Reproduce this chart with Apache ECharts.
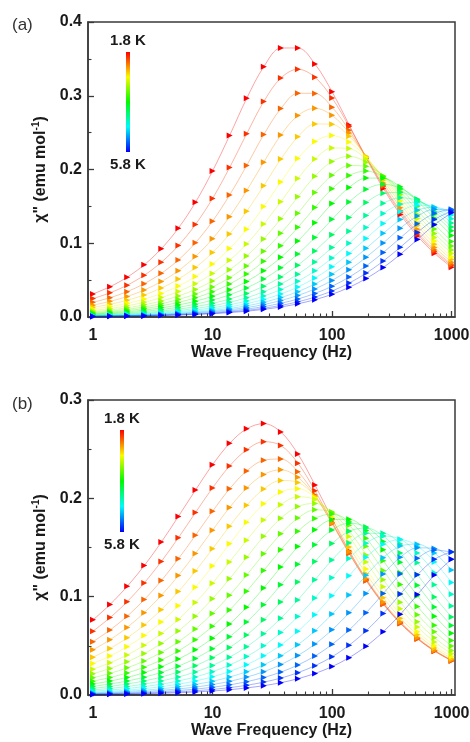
<!DOCTYPE html>
<html><head><meta charset="utf-8">
<script src="https://cdn.jsdelivr.net/npm/echarts@6/dist/echarts.min.js"></script>
<style>html,body{margin:0;padding:0;background:#fff}#c{width:470px;height:742px}</style>
</head><body><div id="c"></div>
<script>
// ---- data ----
const freqHz = [1, 1.389, 1.931, 2.683, 3.728, 5.179, 7.197, 10, 13.89, 19.31, 26.83, 37.28, 51.79, 71.97, 100, 138.9, 193.1, 268.3, 372.8, 517.9, 719.7, 1000];
const temperaturesK = [1.8, 2.0, 2.2, 2.4, 2.6, 2.8, 3.0, 3.2, 3.4, 3.6, 3.8, 4.0, 4.2, 4.4, 4.6, 4.8, 5.0, 5.2, 5.4, 5.6, 5.8];
const xTickValues = [1, 10, 100, 1000];
const xTickLabels = ['1', '10', '100', '1000'];
const colorbarLabels = ['1.8 K', '5.8 K'];

// panel (a): chi'' (emu/mol) per temperature
const chiA_1p8K = [0.0313,0.0411,0.0540,0.0708,0.0926,0.1205,0.1555,0.1980,0.2461,0.2965,0.3393,0.3647,0.3648,0.3429,0.3053,0.2605,0.2153,0.1742,0.1389,0.1098,0.0863,0.0675];
const chiA_2p0K = [0.0250,0.0328,0.0431,0.0566,0.0742,0.0968,0.1255,0.1607,0.2027,0.2485,0.2922,0.3240,0.3360,0.3250,0.2969,0.2583,0.2165,0.1768,0.1419,0.1126,0.0887,0.0696];
const chiA_2p2K = [0.0199,0.0262,0.0344,0.0452,0.0592,0.0774,0.1007,0.1300,0.1654,0.2055,0.2473,0.2826,0.3034,0.3031,0.2845,0.2532,0.2158,0.1783,0.1442,0.1150,0.0909,0.0714];
const chiA_2p4K = [0.0161,0.0212,0.0278,0.0366,0.0480,0.0628,0.0820,0.1062,0.1361,0.1715,0.2100,0.2467,0.2732,0.2830,0.2734,0.2494,0.2168,0.1817,0.1483,0.1190,0.0944,0.0744];
const chiA_2p6K = [0.0131,0.0173,0.0227,0.0299,0.0392,0.0514,0.0672,0.0874,0.1127,0.1434,0.1780,0.2141,0.2443,0.2618,0.2612,0.2450,0.2178,0.1855,0.1533,0.1239,0.0988,0.0780];
const chiA_2p8K = [0.0107,0.0141,0.0185,0.0243,0.0320,0.0419,0.0549,0.0717,0.0928,0.1189,0.1497,0.1832,0.2150,0.2378,0.2460,0.2373,0.2163,0.1879,0.1573,0.1284,0.1030,0.0817];
const chiA_3p0K = [0.0088,0.0115,0.0152,0.0200,0.0263,0.0345,0.0452,0.0591,0.0769,0.0991,0.1260,0.1564,0.1879,0.2141,0.2292,0.2284,0.2139,0.1900,0.1618,0.1335,0.1079,0.0860];
const chiA_3p2K = [0.0072,0.0095,0.0125,0.0165,0.0217,0.0285,0.0374,0.0489,0.0639,0.0827,0.1059,0.1333,0.1630,0.1910,0.2110,0.2179,0.2099,0.1912,0.1659,0.1389,0.1133,0.0909];
const chiA_3p4K = [0.0060,0.0079,0.0104,0.0137,0.0180,0.0237,0.0311,0.0408,0.0533,0.0693,0.0893,0.1135,0.1407,0.1689,0.1922,0.2054,0.2045,0.1913,0.1698,0.1445,0.1192,0.0963];
const chiA_3p6K = [0.0050,0.0066,0.0087,0.0114,0.0151,0.0198,0.0260,0.0341,0.0447,0.0583,0.0755,0.0966,0.1216,0.1486,0.1739,0.1918,0.1979,0.1904,0.1732,0.1502,0.1257,0.1025];
const chiA_3p8K = [0.0041,0.0054,0.0072,0.0094,0.0124,0.0163,0.0214,0.0281,0.0369,0.0482,0.0627,0.0809,0.1029,0.1279,0.1538,0.1757,0.1884,0.1881,0.1765,0.1570,0.1338,0.1105];
const chiA_4p0K = [0.0034,0.0044,0.0058,0.0077,0.0101,0.0133,0.0174,0.0229,0.0301,0.0394,0.0514,0.0667,0.0854,0.1078,0.1324,0.1560,0.1733,0.1800,0.1746,0.1598,0.1392,0.1169];
const chiA_4p2K = [0.0027,0.0036,0.0047,0.0062,0.0081,0.0107,0.0141,0.0185,0.0244,0.0320,0.0418,0.0544,0.0703,0.0896,0.1116,0.1349,0.1552,0.1677,0.1689,0.1596,0.1428,0.1222];
const chiA_4p4K = [0.0022,0.0029,0.0039,0.0051,0.0067,0.0088,0.0116,0.0152,0.0200,0.0262,0.0343,0.0448,0.0581,0.0746,0.0944,0.1162,0.1377,0.1542,0.1616,0.1580,0.1456,0.1276];
const chiA_4p6K = [0.0018,0.0024,0.0032,0.0042,0.0055,0.0072,0.0095,0.0126,0.0165,0.0217,0.0284,0.0372,0.0484,0.0626,0.0799,0.0999,0.1213,0.1404,0.1529,0.1553,0.1478,0.1331];
const chiA_4p8K = [0.0015,0.0020,0.0027,0.0035,0.0046,0.0061,0.0080,0.0105,0.0138,0.0181,0.0238,0.0312,0.0407,0.0529,0.0680,0.0862,0.1065,0.1269,0.1431,0.1516,0.1491,0.1384];
const chiA_5p0K = [0.0013,0.0017,0.0022,0.0029,0.0039,0.0051,0.0067,0.0088,0.0116,0.0152,0.0200,0.0263,0.0344,0.0448,0.0580,0.0742,0.0931,0.1134,0.1321,0.1450,0.1488,0.1424];
const chiA_5p2K = [0.0011,0.0014,0.0019,0.0025,0.0033,0.0043,0.0057,0.0075,0.0098,0.0129,0.0169,0.0223,0.0292,0.0381,0.0496,0.0639,0.0811,0.1005,0.1205,0.1369,0.1460,0.1450];
const chiA_5p4K = [0.0009,0.0012,0.0016,0.0021,0.0027,0.0036,0.0047,0.0062,0.0082,0.0108,0.0141,0.0186,0.0244,0.0320,0.0417,0.0541,0.0693,0.0875,0.1074,0.1265,0.1406,0.1460];
const chiA_5p6K = [0.0008,0.0010,0.0013,0.0017,0.0023,0.0030,0.0040,0.0052,0.0069,0.0091,0.0119,0.0157,0.0206,0.0270,0.0353,0.0460,0.0595,0.0759,0.0947,0.1147,0.1323,0.1436];
const chiA_5p8K = [0.0007,0.0009,0.0012,0.0015,0.0020,0.0026,0.0035,0.0045,0.0060,0.0079,0.0104,0.0136,0.0179,0.0235,0.0308,0.0402,0.0522,0.0671,0.0851,0.1051,0.1252,0.1412];

// panel (b)
const chiB_1p8K = [0.0764,0.0921,0.1105,0.1316,0.1555,0.1816,0.2084,0.2342,0.2559,0.2707,0.2760,0.2674,0.2450,0.2135,0.1792,0.1465,0.1176,0.0934,0.0736,0.0577,0.0451,0.0353];
const chiB_2p0K = [0.0649,0.0787,0.0949,0.1140,0.1358,0.1599,0.1855,0.2106,0.2329,0.2494,0.2576,0.2537,0.2357,0.2077,0.1757,0.1443,0.1162,0.0923,0.0727,0.0570,0.0446,0.0347];
const chiB_2p2K = [0.0542,0.0661,0.0802,0.0970,0.1164,0.1385,0.1624,0.1868,0.2097,0.2279,0.2387,0.2400,0.2271,0.2035,0.1742,0.1439,0.1164,0.0926,0.0730,0.0572,0.0447,0.0348];
const chiB_2p4K = [0.0459,0.0562,0.0687,0.0837,0.1013,0.1214,0.1440,0.1676,0.1907,0.2105,0.2243,0.2290,0.2214,0.2019,0.1749,0.1459,0.1185,0.0946,0.0746,0.0585,0.0456,0.0355];
const chiB_2p6K = [0.0384,0.0473,0.0581,0.0712,0.0868,0.1052,0.1260,0.1487,0.1717,0.1930,0.2095,0.2182,0.2162,0.2019,0.1781,0.1505,0.1232,0.0989,0.0781,0.0613,0.0478,0.0372];
const chiB_2p8K = [0.0321,0.0397,0.0491,0.0605,0.0743,0.0907,0.1097,0.1311,0.1537,0.1757,0.1944,0.2064,0.2098,0.2007,0.1808,0.1551,0.1282,0.1034,0.0820,0.0644,0.0502,0.0391];
const chiB_3p0K = [0.0263,0.0328,0.0407,0.0506,0.0625,0.0769,0.0940,0.1136,0.1353,0.1575,0.1779,0.1936,0.2015,0.1987,0.1840,0.1613,0.1353,0.1101,0.0878,0.0692,0.0540,0.0420];
const chiB_3p2K = [0.0216,0.0270,0.0338,0.0421,0.0525,0.0651,0.0802,0.0980,0.1182,0.1400,0.1614,0.1798,0.1917,0.1948,0.1859,0.1668,0.1425,0.1173,0.0942,0.0744,0.0582,0.0452];
const chiB_3p4K = [0.0175,0.0220,0.0276,0.0346,0.0433,0.0541,0.0672,0.0830,0.1014,0.1220,0.1436,0.1639,0.1799,0.1883,0.1862,0.1727,0.1513,0.1267,0.1028,0.0817,0.0642,0.0499];
const chiB_3p6K = [0.0141,0.0178,0.0224,0.0283,0.0356,0.0448,0.0562,0.0699,0.0864,0.1055,0.1266,0.1478,0.1665,0.1796,0.1840,0.1767,0.1593,0.1364,0.1123,0.0900,0.0709,0.0553];
const chiB_3p8K = [0.0112,0.0142,0.0179,0.0228,0.0288,0.0365,0.0460,0.0578,0.0722,0.0893,0.1089,0.1302,0.1509,0.1681,0.1782,0.1787,0.1674,0.1476,0.1241,0.1009,0.0802,0.0628];
const chiB_4p0K = [0.0088,0.0112,0.0142,0.0181,0.0230,0.0293,0.0372,0.0470,0.0593,0.0742,0.0919,0.1120,0.1330,0.1528,0.1679,0.1748,0.1708,0.1562,0.1349,0.1116,0.0896,0.0707];
const chiB_4p2K = [0.0068,0.0087,0.0112,0.0143,0.0183,0.0234,0.0298,0.0380,0.0483,0.0610,0.0765,0.0946,0.1150,0.1357,0.1540,0.1665,0.1698,0.1616,0.1443,0.1222,0.0997,0.0793];
const chiB_4p4K = [0.0052,0.0067,0.0086,0.0111,0.0143,0.0183,0.0235,0.0301,0.0385,0.0491,0.0622,0.0781,0.0967,0.1171,0.1374,0.1545,0.1644,0.1644,0.1535,0.1344,0.1122,0.0905];
const chiB_4p6K = [0.0040,0.0051,0.0066,0.0086,0.0110,0.0143,0.0184,0.0237,0.0305,0.0391,0.0500,0.0635,0.0798,0.0987,0.1193,0.1389,0.1544,0.1617,0.1583,0.1445,0.1244,0.1025];
const chiB_4p8K = [0.0030,0.0039,0.0050,0.0065,0.0085,0.0110,0.0143,0.0185,0.0239,0.0308,0.0398,0.0509,0.0649,0.0816,0.1009,0.1213,0.1402,0.1534,0.1580,0.1513,0.1352,0.1145];
const chiB_5p0K = [0.0022,0.0029,0.0038,0.0049,0.0064,0.0083,0.0108,0.0140,0.0183,0.0237,0.0307,0.0398,0.0512,0.0653,0.0823,0.1018,0.1219,0.1397,0.1514,0.1534,0.1443,0.1272];
const chiB_5p2K = [0.0016,0.0021,0.0028,0.0036,0.0048,0.0062,0.0081,0.0106,0.0139,0.0182,0.0237,0.0309,0.0401,0.0518,0.0663,0.0836,0.1032,0.1231,0.1401,0.1497,0.1491,0.1381];
const chiB_5p4K = [0.0012,0.0015,0.0020,0.0026,0.0035,0.0046,0.0060,0.0079,0.0103,0.0136,0.0178,0.0233,0.0305,0.0397,0.0515,0.0662,0.0836,0.1033,0.1230,0.1390,0.1475,0.1452];
const chiB_5p6K = [0.0008,0.0011,0.0014,0.0019,0.0025,0.0033,0.0043,0.0057,0.0075,0.0099,0.0131,0.0172,0.0227,0.0298,0.0389,0.0507,0.0654,0.0830,0.1027,0.1223,0.1380,0.1458];
const chiB_5p8K = [0.0006,0.0008,0.0010,0.0013,0.0018,0.0023,0.0031,0.0041,0.0054,0.0072,0.0095,0.0125,0.0166,0.0219,0.0289,0.0380,0.0497,0.0644,0.0821,0.1021,0.1221,0.1381];

const panelA = [chiA_1p8K,chiA_2p0K,chiA_2p2K,chiA_2p4K,chiA_2p6K,chiA_2p8K,chiA_3p0K,chiA_3p2K,chiA_3p4K,chiA_3p6K,chiA_3p8K,chiA_4p0K,chiA_4p2K,chiA_4p4K,chiA_4p6K,chiA_4p8K,chiA_5p0K,chiA_5p2K,chiA_5p4K,chiA_5p6K,chiA_5p8K];
const panelB = [chiB_1p8K,chiB_2p0K,chiB_2p2K,chiB_2p4K,chiB_2p6K,chiB_2p8K,chiB_3p0K,chiB_3p2K,chiB_3p4K,chiB_3p6K,chiB_3p8K,chiB_4p0K,chiB_4p2K,chiB_4p4K,chiB_4p6K,chiB_4p8K,chiB_5p0K,chiB_5p2K,chiB_5p4K,chiB_5p6K,chiB_5p8K];

// ---- styling ----
const F = "'Liberation Sans', Arial, sans-serif";
const AX = '#3a3a3a';
const TXT = '#1a1a1a';
const TRI = 'path://M0,0L10,5L0,10Z';

function hslToHex(h, s, l) {
  s /= 100; l /= 100;
  const k = n => (n + h / 30) % 12;
  const a = s * Math.min(l, 1 - l);
  const f = n => l - a * Math.max(-1, Math.min(k(n) - 3, Math.min(9 - k(n), 1)));
  const to = x => Math.round(x * 255).toString(16).padStart(2, '0');
  return '#' + to(f(0)) + to(f(8)) + to(f(4));
}
const tMin = temperaturesK[0], tMax = temperaturesK[temperaturesK.length - 1];
const tempColor = T => hslToHex(240 * (T - tMin) / (tMax - tMin), 100, 49);

const lg = v => Math.log10(v);
const xMajor = xTickValues.map(lg);
const xMinor = [];
xTickValues.slice(0, 3).forEach(d => { for (let m = 2; m <= 9; m++) xMinor.push(lg(d * m)); });
const X_MIN = -0.042, X_MAX = 3.028;

function mainX(gi) {
  return {
    gridIndex: gi, type: 'value', min: X_MIN, max: X_MAX, position: 'bottom',
    axisLine: { show: true, onZero: false, lineStyle: { color: AX, width: 1.5 } }, splitLine: { show: false },
    axisTick: { show: true, inside: true, length: 6, customValues: xMajor, lineStyle: { color: AX, width: 1.3 } },
    axisLabel: { customValues: xMajor, margin: 11, fontSize: 16, fontWeight: 'bold', fontFamily: F, color: TXT,
      formatter: v => xTickLabels[xMajor.findIndex(t => Math.abs(t - v) < 1e-6)] || '' },
    name: 'Wave Frequency (Hz)', nameLocation: 'middle', nameGap: 28,
    nameTextStyle: { fontSize: 16, fontWeight: 'bold', fontFamily: F, color: TXT }
  };
}
function minorX(gi) {
  return {
    gridIndex: gi, type: 'value', min: X_MIN, max: X_MAX, position: 'bottom', offset: 0,
    axisLine: { show: false, onZero: false }, splitLine: { show: false },
    axisTick: { show: true, inside: true, length: 3.5, customValues: xMinor, lineStyle: { color: AX, width: 1.1 } },
    axisLabel: { show: false }
  };
}
function yAx(gi, max) {
  return {
    gridIndex: gi, type: 'value', min: 0, max: max, interval: 0.1, position: 'left',
    axisLine: { show: true, onZero: false, lineStyle: { color: AX, width: 1.5 } }, splitLine: { show: false },
    axisTick: { show: true, inside: true, length: 6, lineStyle: { color: AX, width: 1.3 } },
    minorTick: { show: true, splitNumber: 2, length: 3.5, lineStyle: { color: AX, width: 1.1 } },
    axisLabel: { margin: 6, fontSize: 16, fontWeight: 'bold', fontFamily: F, color: TXT, formatter: v => v.toFixed(1) },
    name: '{a|χ" (emu mol}{s|-1}{a|)}', nameLocation: 'middle', nameGap: 30,
    nameTextStyle: { rich: {
      a: { fontSize: 16, fontWeight: 'bold', fontFamily: F, color: TXT, lineHeight: 20 },
      s: { fontSize: 10, fontWeight: 'bold', fontFamily: F, color: TXT, lineHeight: 12, verticalAlign: 'top' }
    } }
  };
}
function buildSeries(panel, xIdx, yIdx) {
  return panel.map((vals, i) => {
    const c = tempColor(temperaturesK[i]);
    return {
      type: 'line', name: temperaturesK[i].toFixed(1) + ' K', xAxisIndex: xIdx, yAxisIndex: yIdx,
      data: freqHz.map((f, j) => [lg(f), vals[j]]),
      smooth: 0.35, symbol: TRI, symbolSize: 6, showSymbol: true,
      itemStyle: { color: c }, lineStyle: { color: c, width: 0.9, opacity: 0.4 },
      emphasis: { disabled: true }, z: 2 + i
    };
  });
}
const gradStops = temperaturesK.map((T, i) => ({ offset: i / (temperaturesK.length - 1), color: tempColor(T) }));
function colorbar(x, y, h) {
  return [
    { type: 'rect', shape: { x: x, y: y, width: 4, height: h },
      style: { fill: new echarts.graphic.LinearGradient(0, 0, 0, 1, gradStops) } },
    { type: 'text', x: x + 2, y: y - 11, style: { text: colorbarLabels[0], align: 'center', verticalAlign: 'middle',
      font: 'bold 15px ' + F, fill: TXT } },
    { type: 'text', x: x + 2, y: y + h + 13, style: { text: colorbarLabels[1], align: 'center', verticalAlign: 'middle',
      font: 'bold 15px ' + F, fill: TXT } }
  ];
}

const gridStyle = { show: true, borderColor: AX, borderWidth: 1.5, backgroundColor: 'rgba(0,0,0,0)', containLabel: false, outerBoundsMode: 'none' };
const option = {
  animation: false,
  backgroundColor: '#ffffff',
  textStyle: { fontFamily: F },
  grid: [
    Object.assign({ left: 88, top: 22, width: 367, height: 295 }, gridStyle),
    Object.assign({ left: 88, top: 400, width: 367, height: 295 }, gridStyle)
  ],
  xAxis: [mainX(0), minorX(0), mainX(1), minorX(1)],
  yAxis: [yAx(0, 0.4), yAx(1, 0.3)],
  series: buildSeries(panelA, 0, 0).concat(buildSeries(panelB, 2, 1)),
  graphic: [
    { type: 'text', x: 12, y: 25, style: { text: '(a)', font: '17px ' + F, fill: '#333', verticalAlign: 'middle' } },
    { type: 'text', x: 12, y: 404, style: { text: '(b)', font: '17px ' + F, fill: '#333', verticalAlign: 'middle' } }
  ].concat(colorbar(126, 52, 100), colorbar(120, 430, 102))
};
const chart = echarts.init(document.getElementById('c'), null, { renderer: 'canvas' });
chart.setOption(option);
</script></body></html>
